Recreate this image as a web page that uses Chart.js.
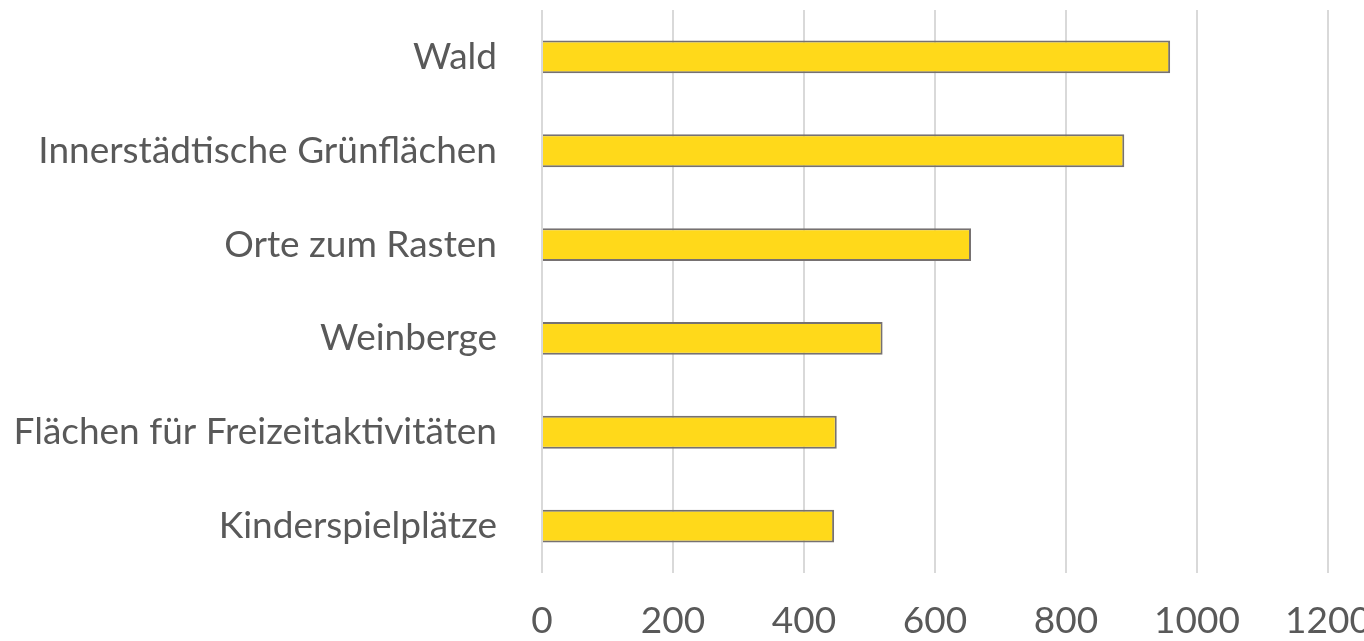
<!DOCTYPE html>
<html>
<head>
<meta charset="utf-8">
<script src="https://cdn.jsdelivr.net/npm/chart.js@4"></script>
<style>
  body { margin: 0; background: #fff; }
  #wrap { width: 1364px; height: 641px; }
</style>
</head>
<body>
<div id="wrap"><canvas id="barChart"></canvas></div>
<script>
var categories = [
  "Wald",
  "Innerstädtische Grünflächen",
  "Orte zum Rasten",
  "Weinberge",
  "Flächen für Freizeitaktivitäten",
  "Kinderspielplätze"
];
var counts = [959, 889, 655, 520, 450, 446];
var axisMax = 1200;
var axisStep = 200;

window.onload = function() {
  var ctx = document.getElementById("barChart").getContext("2d");
  window.myBar = new Chart(ctx, {
    type: "bar",
    data: {
      labels: categories,
      datasets: [
        {
          data: counts,
          backgroundColor: "#FFD91A",
          borderColor: "#767171",
          borderWidth: 2,
          categoryPercentage: 1,
          barPercentage: 0.35
        }
      ]
    },
    options: {
      indexAxis: "y",
      responsive: true,
      maintainAspectRatio: false,
      animation: false,
      layout: { padding: { top: 10, right: 0, bottom: 0, left: 0 } },
      plugins: {
        legend: { display: false },
        tooltip: { enabled: false }
      },
      scales: {
        x: {
          min: 0,
          max: axisMax,
          ticks: {
            stepSize: axisStep,
            color: "#595959",
            font: { family: "Lato", size: 37, lineHeight: 1 },
            padding: 30,
            callback: function(value) { return String(value); }
          },
          grid: { color: "#D9D9D9", lineWidth: 2, drawTicks: false },
          border: { display: false },
          afterFit: function(scale) {
            scale.paddingRight = 36;
            scale.height = 68;
          }
        },
        y: {
          ticks: {
            color: "#595959",
            font: { family: "Lato", size: 37, lineHeight: 0.5 },
            padding: 0
          },
          grid: {
            display: true,
            drawOnChartArea: false,
            drawTicks: true,
            tickLength: 45,
            color: "rgba(0,0,0,0)"
          },
          border: { display: false },
          afterFit: function(scale) { scale.width = 542; }
        }
      }
    }
  });
};
</script>
</body>
</html>
